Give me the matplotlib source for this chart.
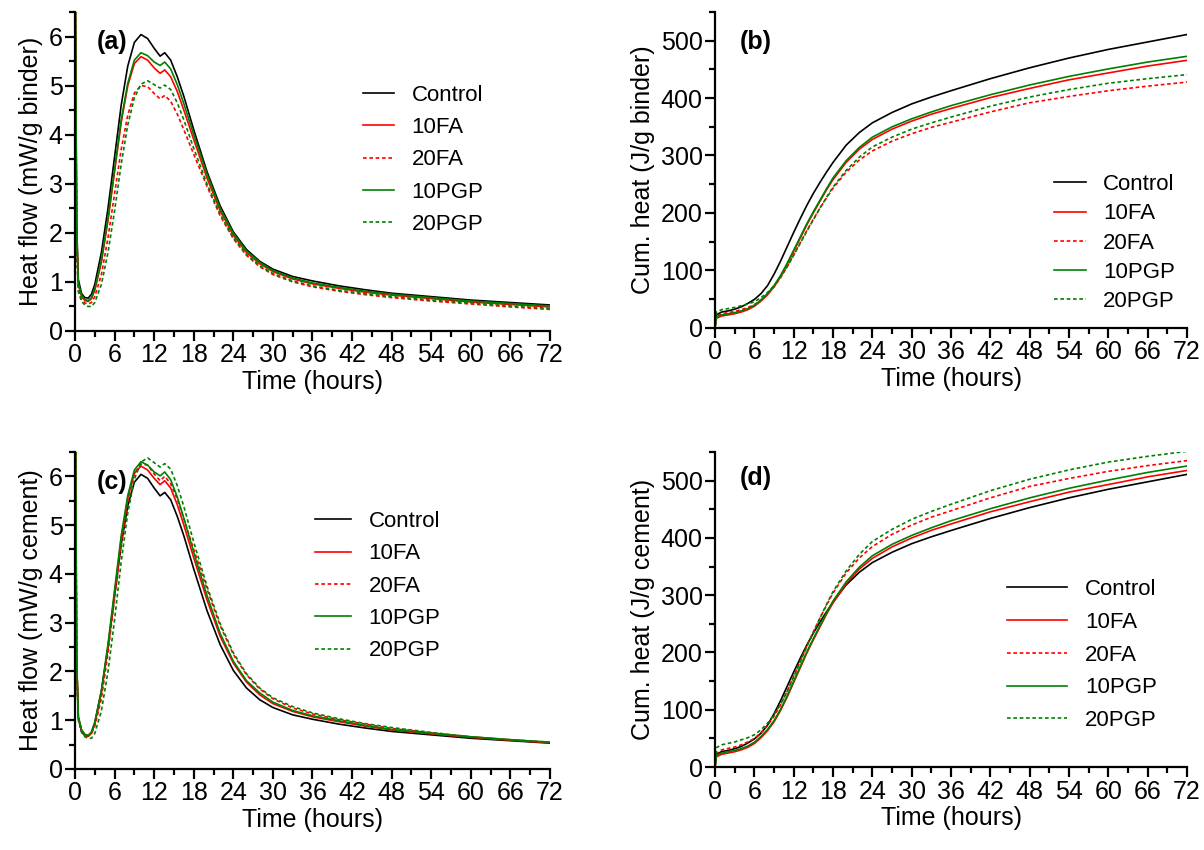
import numpy as np
import matplotlib.pyplot as plt
from matplotlib.ticker import MultipleLocator

plt.rcParams['font.family'] = ['Liberation Sans', 'DejaVu Sans']

names = ['Control', '10FA', '20FA', '10PGP', '20PGP']
colors = ['black', '#ff0000', '#ff0000', '#008000', '#008000']
styles = ['-', '-', (0, (2.2, 1.6)), '-', (0, (2.2, 1.6))]

# heat flow time grid (h)
t_flow = [0, 0.25, 0.5, 1, 1.5, 2, 2.5, 3, 4, 5, 6, 7, 8, 9, 10, 11, 12, 12.9, 13.6,
          14.5, 15.5, 16.5, 18, 20, 22, 24, 26, 28, 30, 33, 36, 40, 44, 48, 54, 60, 66, 72]

# (a) heat flow, mW/g binder
flow_binder = {
    'Control': [8.0, 2.2, 1.05, 0.76, 0.68, 0.67, 0.75, 0.95, 1.6, 2.5, 3.55, 4.6, 5.4, 5.88, 6.04, 5.96, 5.76, 5.6, 5.67,
                5.52, 5.18, 4.78, 4.1, 3.25, 2.55, 2.02, 1.66, 1.42, 1.26, 1.11, 1.02, 0.92, 0.84, 0.77, 0.7, 0.63, 0.58, 0.53],
    '10FA': [8.0, 2.0, 0.95, 0.7, 0.62, 0.6, 0.66, 0.83, 1.4, 2.25, 3.25, 4.25, 5.0, 5.45, 5.59, 5.52, 5.36, 5.25, 5.32,
             5.18, 4.88, 4.5, 3.9, 3.12, 2.45, 1.95, 1.6, 1.37, 1.21, 1.06, 0.96, 0.87, 0.79, 0.73, 0.66, 0.59, 0.54, 0.49],
    '20FA': [8.0, 1.8, 0.85, 0.64, 0.57, 0.55, 0.58, 0.7, 1.15, 1.9, 2.8, 3.7, 4.4, 4.85, 5.0, 4.98, 4.84, 4.73, 4.8,
             4.68, 4.42, 4.1, 3.6, 2.95, 2.35, 1.88, 1.54, 1.31, 1.15, 1.0, 0.9, 0.81, 0.74, 0.68, 0.61, 0.55, 0.49, 0.44],
    '10PGP': [8.0, 2.05, 0.97, 0.72, 0.64, 0.62, 0.68, 0.86, 1.45, 2.3, 3.3, 4.3, 5.05, 5.52, 5.67, 5.61, 5.48, 5.41, 5.48,
              5.34, 5.02, 4.63, 4.0, 3.2, 2.5, 1.99, 1.63, 1.4, 1.23, 1.08, 0.98, 0.89, 0.81, 0.75, 0.68, 0.61, 0.56, 0.51],
    '20PGP': [8.0, 1.7, 0.8, 0.6, 0.53, 0.5, 0.5, 0.58, 0.95, 1.6, 2.45, 3.4, 4.2, 4.75, 5.03, 5.1, 5.02, 4.95, 5.01,
              4.92, 4.65, 4.3, 3.72, 3.0, 2.38, 1.9, 1.56, 1.33, 1.17, 1.02, 0.92, 0.83, 0.76, 0.7, 0.63, 0.57, 0.51, 0.46],
}

# (c) heat flow, mW/g cement
flow_cement = {
    'Control': [8.0, 2.2, 1.05, 0.76, 0.68, 0.67, 0.75, 0.95, 1.6, 2.5, 3.55, 4.6, 5.4, 5.88, 6.04, 5.96, 5.76, 5.6, 5.67,
                5.52, 5.18, 4.78, 4.1, 3.25, 2.55, 2.02, 1.66, 1.42, 1.26, 1.11, 1.02, 0.92, 0.84, 0.77, 0.7, 0.63, 0.58, 0.53],
    '10FA': [8.9, 2.22, 1.06, 0.78, 0.69, 0.67, 0.73, 0.92, 1.56, 2.5, 3.61, 4.72, 5.56, 6.06, 6.21, 6.13, 5.96, 5.83, 5.91,
             5.76, 5.42, 5.0, 4.33, 3.47, 2.72, 2.17, 1.78, 1.52, 1.34, 1.18, 1.07, 0.97, 0.88, 0.8, 0.72, 0.65, 0.59, 0.54],
    '20FA': [10.0, 2.25, 1.06, 0.8, 0.71, 0.69, 0.73, 0.88, 1.44, 2.38, 3.5, 4.63, 5.5, 6.06, 6.25, 6.23, 6.05, 5.91, 6.0,
             5.85, 5.53, 5.13, 4.5, 3.69, 2.94, 2.35, 1.93, 1.64, 1.44, 1.25, 1.13, 1.01, 0.92, 0.83, 0.74, 0.66, 0.6, 0.54],
    '10PGP': [8.9, 2.28, 1.08, 0.8, 0.71, 0.69, 0.76, 0.96, 1.61, 2.56, 3.67, 4.78, 5.61, 6.13, 6.3, 6.23, 6.09, 6.01, 6.09,
              5.93, 5.58, 5.14, 4.44, 3.56, 2.78, 2.21, 1.81, 1.56, 1.37, 1.2, 1.09, 0.99, 0.89, 0.81, 0.73, 0.66, 0.6, 0.55],
    '20PGP': [10.0, 2.13, 1.0, 0.75, 0.66, 0.63, 0.63, 0.73, 1.19, 2.0, 3.06, 4.25, 5.25, 5.94, 6.29, 6.38, 6.28, 6.19, 6.26,
              6.15, 5.81, 5.38, 4.65, 3.75, 2.98, 2.38, 1.95, 1.66, 1.46, 1.28, 1.15, 1.03, 0.93, 0.85, 0.75, 0.66, 0.6, 0.55],
}

# cumulative heat time grid (h)
t_cum = [0, 0.2, 1, 2, 3, 4, 5, 6, 7, 8, 9, 10, 11, 12, 13, 14, 15, 16, 17, 18, 20, 22, 24,
         27, 30, 33, 36, 42, 48, 54, 60, 66, 72]

# (b) cumulative heat, J/g binder
cum_binder = {
    'Control': [0, 22, 27, 29, 32, 36, 42, 49, 59, 73, 93, 116, 141, 166, 190, 213, 234, 253, 271, 288, 318, 340, 357,
                375, 390, 402, 413, 434, 453, 470, 485, 498, 511],
    '10FA': [0, 16, 20, 22, 24, 27, 31, 37, 46, 57, 71, 89, 110, 133, 156, 179, 200, 220, 240, 258, 288, 311, 328,
             346, 360, 372, 382, 401, 417, 432, 444, 456, 466],
    '20FA': [0, 19, 24, 26, 28, 31, 35, 40, 48, 58, 71, 87, 106, 127, 148, 169, 189, 208, 226, 243, 271, 292, 308,
             325, 338, 349, 358, 376, 392, 403, 413, 421, 428],
    '10PGP': [0, 18, 22, 24, 26, 29, 33, 39, 48, 59, 73, 91, 112, 135, 158, 181, 202, 222, 242, 261, 291, 314, 332,
              350, 364, 376, 387, 406, 423, 438, 451, 463, 473],
    '20PGP': [0, 27, 31, 33, 35, 38, 41, 45, 52, 61, 73, 88, 106, 126, 147, 168, 188, 208, 227, 245, 274, 297, 315,
              332, 346, 357, 367, 386, 402, 415, 426, 434, 441],
}

# (d) cumulative heat, J/g cement
cum_cement = {
    'Control': [0, 22, 27, 29, 32, 36, 42, 49, 59, 73, 93, 116, 141, 166, 190, 213, 234, 253, 271, 288, 318, 340, 357,
                375, 390, 402, 413, 434, 453, 470, 485, 498, 511],
    '10FA': [0, 17.8, 22.2, 24.4, 26.7, 30, 34.4, 41.1, 51.1, 63.3, 78.9, 98.9, 122.2, 147.8, 173.3, 198.9, 222.2, 244.4,
             266.7, 286.7, 320, 345.6, 364.4, 384.4, 400, 413.3, 424.4, 445.6, 463.3, 480, 493.3, 506.7, 517.8],
    '20FA': [0, 23.8, 30, 32.5, 35, 38.8, 43.8, 50, 60, 72.5, 88.8, 108.8, 132.5, 158.8, 185, 211.3, 236.3, 260, 282.5,
             303.8, 338.8, 365, 385, 406.3, 422.5, 436.3, 447.5, 470, 490, 503.8, 516.3, 526.3, 535],
    '10PGP': [0, 20, 24.4, 26.7, 28.9, 32.2, 36.7, 43.3, 53.3, 65.6, 81.1, 101.1, 124.4, 150, 175.6, 201.1, 224.4, 246.7,
              268.9, 290, 323.3, 348.9, 368.9, 388.9, 404.4, 417.8, 430, 451.1, 470, 486.7, 501.1, 514.4, 525.6],
    '20PGP': [0, 33.8, 38.8, 41.3, 43.8, 47.5, 51.3, 56.3, 65, 76.3, 91.3, 110, 132.5, 157.5, 183.8, 210, 235, 260, 283.8,
              306.3, 342.5, 371.3, 393.8, 415, 432.5, 446.3, 458.8, 482.5, 502.5, 518.8, 532.5, 542.5, 551.3],
}

fig = plt.figure(figsize=(12.04, 8.5), dpi=100)


def panel(rect, t, data, ylim, ymaj, ymin, ylabel, tag, tag_xy, leg_xy, leg_len, leg_sp):
    ax = fig.add_axes(rect)
    for n, c, s in zip(names, colors, styles):
        ax.plot(t, data[n], color=c, linestyle=s, lw=1.2, label=n)
    ax.set_xlim(0, 72)
    ax.set_ylim(*ylim)
    ax.xaxis.set_major_locator(MultipleLocator(6))
    ax.xaxis.set_minor_locator(MultipleLocator(3))
    ax.yaxis.set_major_locator(MultipleLocator(ymaj))
    ax.yaxis.set_minor_locator(MultipleLocator(ymin))
    for side in ['top', 'right']:
        ax.spines[side].set_visible(False)
    for side in ['left', 'bottom']:
        ax.spines[side].set_linewidth(1.6)
    ax.tick_params(which='major', direction='out', length=7, width=1.6, labelsize=18, pad=2)
    ax.tick_params(which='minor', direction='out', length=4, width=1.6)
    ax.set_xlabel('Time (hours)', fontsize=18, labelpad=2)
    ax.set_ylabel(ylabel, fontsize=18, labelpad=4)
    ax.text(tag_xy[0], tag_xy[1], tag, transform=ax.transAxes, fontsize=18,
            fontweight='bold', ha='left', va='center')
    ax.legend(loc='upper left', bbox_to_anchor=leg_xy, frameon=False, fontsize=16,
              handlelength=leg_len, handletextpad=0.8, labelspacing=leg_sp,
              borderpad=0, borderaxespad=0)
    return ax


panel([0.0623, 0.6106, 0.3945, 0.3753], t_flow, flow_binder, (0, 6.5), 1, 0.5,
      'Heat flow (mW/g binder)', '(a)', (0.046, 0.906), (0.606, 0.772), 1.4, 0.51)
panel([0.5939, 0.6147, 0.392, 0.371], t_cum, cum_binder, (0, 550), 100, 50,
      'Cum. heat (J/g binder)', '(b)', (0.053, 0.905), (0.719, 0.486), 1.4, 0.37)
panel([0.0623, 0.0953, 0.3945, 0.373], t_flow, flow_cement, (0, 6.5), 1, 0.5,
      'Heat flow (mW/g cement)', '(c)', (0.046, 0.905), (0.5055, 0.8135), 1.6, 0.51)
panel([0.5939, 0.0976, 0.392, 0.3706], t_cum, cum_cement, (0, 550), 100, 50,
      'Cum. heat (J/g cement)', '(d)', (0.053, 0.917), (0.619, 0.597), 2.7, 0.53)

fig.savefig('out.png', dpi=100)
